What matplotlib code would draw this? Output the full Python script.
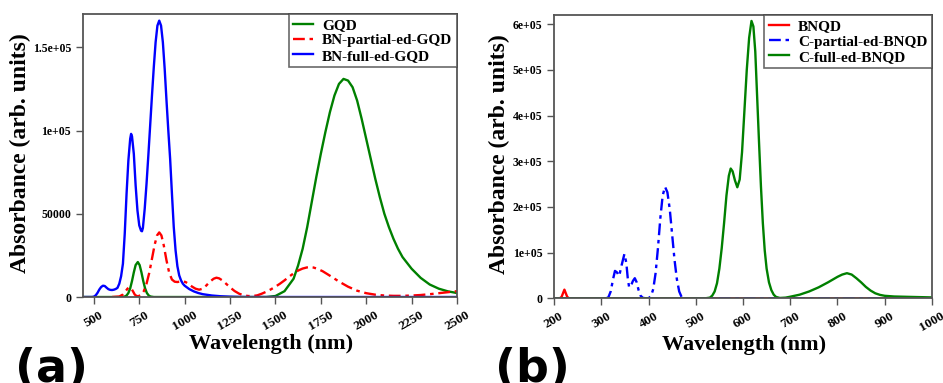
import numpy as np
import matplotlib
matplotlib.use("Agg")
import matplotlib.pyplot as plt

plt.rcParams['font.family'] = ['Liberation Serif', 'DejaVu Serif']
plt.rcParams['font.weight'] = 'bold'

# =============================================================================
# Data (a) - GQD family
# =============================================================================
wl_gqd = [440, 660, 670, 680, 690, 700, 710, 720, 730, 742, 752, 762, 772,
          782, 792, 802, 812, 830,
          1450, 1500, 1550, 1600, 1625, 1650, 1675, 1700, 1725, 1750, 1775,
          1800, 1825, 1850, 1875, 1900, 1925, 1950, 1975, 2000, 2025, 2050,
          2075, 2100, 2125, 2150, 2175, 2200, 2250, 2300, 2350, 2400, 2450, 2500]
ab_gqd = [0, 0, 300, 900, 2400, 5200, 9600, 14800, 19200, 21000, 19200, 14800, 9600,
          5200, 2400, 900, 300, 0,
          0, 600, 3500, 11000, 19000, 29000, 42000, 57000, 72000, 86000, 99000,
          111000, 121000, 128000, 131000, 130000, 126000, 118000, 107000, 95000, 83000, 71000,
          60000, 50000, 42000, 35000, 29000, 24000, 17000, 11500, 7500, 5000, 3400, 2400]

wl_bn_part = [600, 640, 660, 675, 685, 695, 705, 715, 725, 735, 745, 760, 775,
              790, 805, 820, 835, 848, 860, 872, 885, 900, 915, 930, 945, 960,
              975, 990, 1005, 1020, 1040, 1060, 1080, 1100, 1120, 1140, 1160, 1175,
              1190, 1210, 1230, 1250, 1275, 1300, 1325, 1350, 1375, 1400, 1425,
              1450, 1475, 1500, 1525, 1550, 1575, 1600, 1625, 1650, 1675, 1690,
              1710, 1730, 1760, 1800, 1850, 1900, 1950, 2000, 2050, 2100, 2150,
              2200, 2250, 2300, 2350, 2400, 2450, 2500]
ab_bn_part = [0, 300, 1500, 3500, 5000, 5800, 5300, 3500, 1500, 600, 500, 1200, 3500,
              8000, 14500, 23000, 31500, 37000, 38800, 37000, 31000, 22000, 14500, 10500, 9200, 9000,
              9300, 9400, 9000, 8000, 6300, 5000, 4400, 5000, 7000, 9300, 11000, 11600,
              11200, 9800, 7800, 5800, 3600, 2000, 1000, 600, 600, 1000, 2000,
              3200, 4600, 6200, 8000, 10000, 12200, 14200, 15900, 17100, 17800, 18000,
              17700, 17000, 15500, 12800, 9300, 6200, 3800, 2300, 1400, 900, 700,
              700, 900, 1200, 1700, 2300, 2900, 3500]

wl_bn_full = [440, 490, 500, 510, 520, 530, 540, 550, 560, 570, 580, 590, 600,
              610, 620, 630, 640, 650, 660, 670, 680, 690, 700, 705, 710, 720,
              730, 740, 750, 760, 765, 770, 780, 790, 800, 810, 820, 830, 840,
              850, 860, 870, 880, 890, 900, 910, 920, 930, 940, 950, 960, 970,
              980, 990, 1000, 1025, 1050, 1075, 1100, 1150, 1200, 1250, 1300, 1350, 2500]
ab_bn_full = [0, 0, 200, 1000, 2500, 4500, 6000, 6800, 6600, 5600, 4700, 4300, 4200,
              4400, 4800, 5500, 8000, 12500, 20000, 38000, 62000, 82000, 95000, 98000, 96500, 86000,
              67000, 52000, 43000, 39800, 39500, 41500, 53000, 68000, 85000, 103000, 121000, 138000, 153000,
              163000, 166000, 163000, 153000, 137000, 118000, 100000, 83000, 62000, 42000, 28000, 18500, 13000,
              10000, 8000, 6800, 4800, 3400, 2400, 1700, 900, 450, 200, 50, 0, 0]

# =============================================================================
# Data (b) - BNQD family
# =============================================================================
wl_bnqd = [200, 212, 216, 219, 222, 225, 228, 232, 950]
ab_bnqd = [0, 0, 3000, 11000, 19000, 11000, 3000, 0, 0]

wl_c_part = [200, 310, 315, 320, 325, 329, 333, 338, 343, 349, 353, 356, 359,
             363, 367, 371, 375, 379, 383, 388, 395, 400, 405, 410, 415, 420,
             425, 430, 435, 440, 445, 450, 455, 460, 465, 470, 475, 950]
ab_c_part = [0, 0, 2000, 15000, 42000, 60000, 57000, 49000, 72000, 97000, 78000, 45000, 24000,
             28000, 38000, 44000, 35000, 18000, 6000, 1000, 0, 500, 4000, 20000, 55000, 110000,
             175000, 225000, 244000, 232000, 195000, 140000, 85000, 42000, 15000, 3000, 0, 0]

wl_c_full = [200, 520, 530, 535, 540, 545, 550, 555, 560, 565, 570, 574, 578,
             583, 588, 593, 598, 603, 608, 613, 618, 622, 626, 630, 634, 638,
             642, 646, 650, 655, 660, 665, 670, 678, 690, 700, 720, 740, 760,
             780, 800, 810, 820, 830, 840, 850, 860, 870, 880, 890, 900, 920, 950, 1000]
ab_c_full = [0, 0, 1500, 6000, 15000, 33000, 65000, 110000, 165000, 225000, 268000, 284000, 278000,
             258000, 243000, 260000, 320000, 410000, 500000, 570000, 607000, 595000, 540000, 440000, 340000, 245000,
             165000, 105000, 65000, 35000, 18000, 8000, 3000, 800, 1500, 3500, 8000, 15000, 24000,
             35000, 47000, 52000, 55000, 52000, 44000, 35000, 25000, 17000, 11000, 7500, 5500, 4000, 3200, 2000]

xticks_a = [500, 750, 1000, 1250, 1500, 1750, 2000, 2250, 2500]
yticks_a = [0, 50000, 100000, 150000]
ylabels_a = ['0', '50000', '1e+05', '1.5e+05']
xticks_b = [200, 300, 400, 500, 600, 700, 800, 900, 1000]
yticks_b = [0, 100000, 200000, 300000, 400000, 500000, 600000]
ylabels_b = ['0', '1e+05', '2e+05', '3e+05', '4e+05', '5e+05', '6e+05']

# =============================================================================
# Plot
# =============================================================================
fig = plt.figure(figsize=(9.43, 3.83), dpi=100)
ax1 = fig.add_axes([0.088, 0.2245, 0.3966, 0.739])
ax2 = fig.add_axes([0.5875, 0.2211, 0.4008, 0.7397])

lw = 1.7
dash = (5, 2, 1.5, 2)

ax1.plot(wl_gqd, ab_gqd, color='green', lw=lw, label='GQD')
ax1.plot(wl_bn_part, ab_bn_part, color='red', lw=lw, dashes=dash, label='BN-partial-ed-GQD')
ax1.plot(wl_bn_full, ab_bn_full, color='blue', lw=lw, label='BN-full-ed-GQD')
ax1.set_xlim(440, 2500)
ax1.set_ylim(0, 170000)
ax1.set_xticks(xticks_a)
ax1.set_yticks(yticks_a)
ax1.set_yticklabels(ylabels_a)

ax2.plot(wl_bnqd, ab_bnqd, color='red', lw=lw, label='BNQD')
ax2.plot(wl_c_part, ab_c_part, color='blue', lw=lw, dashes=dash, label='C-partial-ed-BNQD')
ax2.plot(wl_c_full, ab_c_full, color='green', lw=lw, label='C-full-ed-BNQD')
ax2.set_xlim(200, 1000)
ax2.set_ylim(0, 620000)
ax2.set_xticks(xticks_b)
ax2.set_yticks(yticks_b)
ax2.set_yticklabels(ylabels_b)

for ax, ylx in [(ax1, -0.14), (ax2, -0.116)]:
    for s in ax.spines.values():
        s.set_color('#555555')
        s.set_linewidth(1.3)
    ax.tick_params(direction='out', length=5, width=1, color='#555555')
    ax.tick_params(axis='x', labelsize=9.5)
    ax.tick_params(axis='y', labelsize=8.5)
    plt.setp(ax.get_xticklabels(), rotation=30, ha='center', fontweight='bold')
    plt.setp(ax.get_yticklabels(), fontweight='bold')
    ax.set_xlabel('Wavelength (nm)', fontsize=16, fontweight='bold')
    ax.set_ylabel('Absorbance (arb. units)', fontsize=17, fontweight='bold')
    ax.xaxis.set_label_coords(0.503, -0.13)
    ax.yaxis.set_label_coords(ylx, 0.51)
    leg = ax.legend(loc='upper right', borderaxespad=0, fancybox=False,
                    prop={'size': 11, 'weight': 'bold'}, labelspacing=0.1,
                    handlelength=1.3, borderpad=0.3, handletextpad=0.6)
    leg.get_frame().set_edgecolor('#444444')
    leg.get_frame().set_linewidth(1.2)

fig.text(15 / 943, 1.5 / 383, '(a)', family='DejaVu Sans', fontsize=33,
         fontweight='bold', va='baseline', ha='left')
fig.text(495 / 943, 1.5 / 383, '(b)', family='DejaVu Sans', fontsize=33,
         fontweight='bold', va='baseline', ha='left')

plt.savefig('out.png', dpi=100)
